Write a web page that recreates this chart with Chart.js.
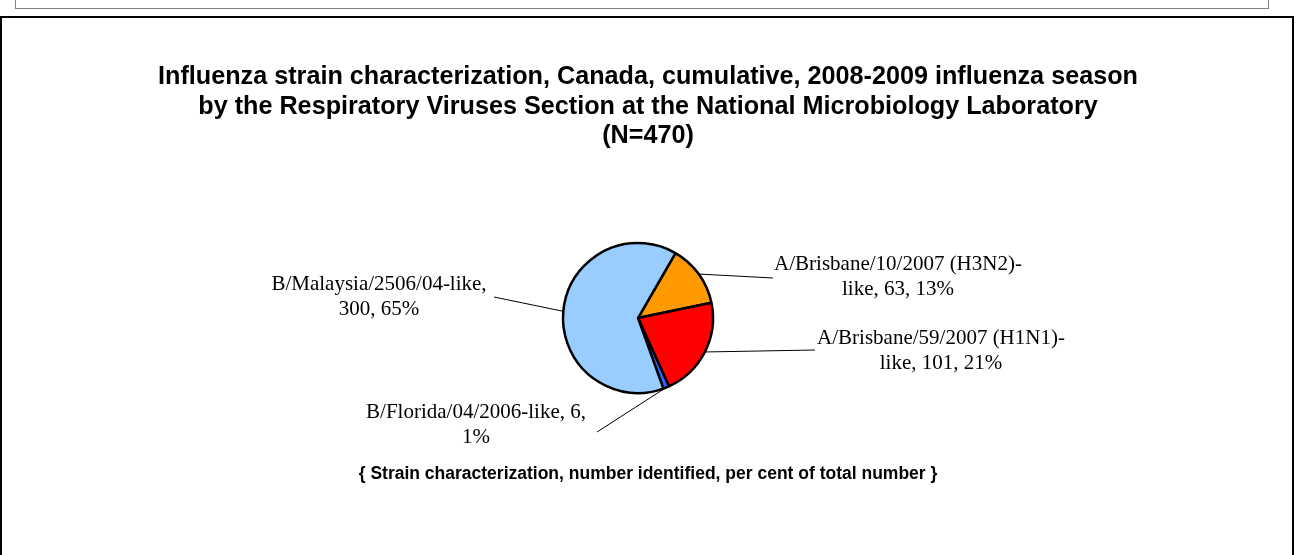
<!DOCTYPE html>
<html>
<head>
<meta charset="utf-8">
<script src="https://cdn.jsdelivr.net/npm/chart.js@4/dist/chart.umd.min.js"></script>
<style>
  html, body { margin: 0; padding: 0; background: #fff; overflow: hidden; }
  #wrap { position: relative; width: 1298px; height: 555px; }
  #topBox { position: absolute; left: 15px; top: -20px; width: 1252px; height: 27px; border: 1px solid #808080; }
  #frame { position: absolute; left: 0; top: 16px; width: 1290px; height: 600px; border: 2px solid #000; }
  #myChart { position: absolute; left: 0; top: 0; }
</style>
</head>
<body>
<div id="wrap">
  <div id="topBox"></div>
  <div id="frame"></div>
  <canvas id="myChart" width="1298" height="555"></canvas>
</div>
<script>
// Data
const categories = [
    'A/Brisbane/10/2007 (H3N2)-like',
    'A/Brisbane/59/2007 (H1N1)-like',
    'B/Florida/04/2006-like',
    'B/Malaysia/2506/04-like'
];
const counts = [63, 101, 6, 300];
const percentLabels = [13, 21, 1, 65]; // as printed on the chart
const sliceColors = ['#FF9900', '#FF0000', '#3366FF', '#99CCFF'];

const titleLines = [
    'Influenza strain characterization, Canada, cumulative, 2008-2009 influenza season',
    'by the Respiratory Viruses Section at the National Microbiology Laboratory',
    '(N=470)'
];
const footnote = '{ Strain characterization, number identified, per cent of total number }';

// Where each data label sits (text centre, first baseline, wrap width, leader end)
const labelPlacement = [
    { x: 898, y: 270, wrap: 260, endX: 773, endY: 278 },
    { x: 941, y: 344, wrap: 260, endX: 815, endY: 350 },
    { x: 476, y: 418, wrap: 230, endX: 597, endY: 432 },
    { x: 379, y: 290, wrap: 230, endX: 494, endY: 297 }
];

const labelFont = '21px "Liberation Serif", "Times New Roman", serif';
const boldFont = (size) => 'bold ' + size + 'px "Liberation Sans", Arial, sans-serif';

// Excel-like wrapping: break at spaces and after hyphens
function wrapText(ctx, text, maxWidth) {
    const tokens = text.match(/[^\s-]*-|[^\s-]+\s*|\s+/g);
    const lines = [];
    let line = '';
    tokens.forEach(tok => {
        const test = line + tok;
        if (line && ctx.measureText(test.trim()).width > maxWidth) {
            lines.push(line.trim());
            line = tok;
        } else {
            line = test;
        }
    });
    if (line.trim()) lines.push(line.trim());
    return lines;
}

const annotations = {
    id: 'annotations',
    afterDraw(chart) {
        const ctx = chart.ctx;
        const meta = chart.getDatasetMeta(0);
        ctx.save();

        // title
        ctx.fillStyle = '#000';
        ctx.textAlign = 'center';
        ctx.textBaseline = 'alphabetic';
        ctx.font = boldFont(25.2);
        titleLines.forEach((t, i) => ctx.fillText(t, 648, 84 + i * 29.5));

        // leader lines + data labels
        meta.data.forEach((arc, i) => {
            const p = arc.getProps(['x', 'y', 'startAngle', 'endAngle', 'outerRadius'], true);
            const mid = (p.startAngle + p.endAngle) / 2;
            const sx = p.x + Math.cos(mid) * p.outerRadius;
            const sy = p.y + Math.sin(mid) * p.outerRadius;
            const pl = labelPlacement[i];
            ctx.strokeStyle = '#000';
            ctx.lineWidth = 1;
            ctx.beginPath();
            ctx.moveTo(sx, sy);
            ctx.lineTo(pl.endX, pl.endY);
            ctx.stroke();

            ctx.font = labelFont;
            const text = categories[i] + ', ' + counts[i] + ', ' + percentLabels[i] + '%';
            const lines = wrapText(ctx, text, pl.wrap);
            lines.forEach((ln, j) => ctx.fillText(ln, pl.x, pl.y + j * 25));
        });

        // footnote
        ctx.font = boldFont(17.5);
        ctx.fillText(footnote, 648, 479);
        ctx.restore();
    }
};

const ctx = document.getElementById('myChart').getContext('2d');

const myChart = new Chart(ctx, {
    type: 'pie',
    data: {
        labels: categories,
        datasets: [{
            data: counts,
            backgroundColor: sliceColors,
            borderColor: '#000',
            borderWidth: 2.5,
            hoverOffset: 0
        }]
    },
    options: {
        responsive: false,
        animation: false,
        events: [],
        rotation: 30,
        radius: 75,
        layout: {
            // square chart area centred on the pie (638, 318)
            padding: { left: 538, right: 560, top: 218, bottom: 137 }
        },
        plugins: {
            legend: { display: false },
            tooltip: { enabled: false },
            title: { display: false }
        }
    },
    plugins: [annotations]
});
</script>
</body>
</html>
